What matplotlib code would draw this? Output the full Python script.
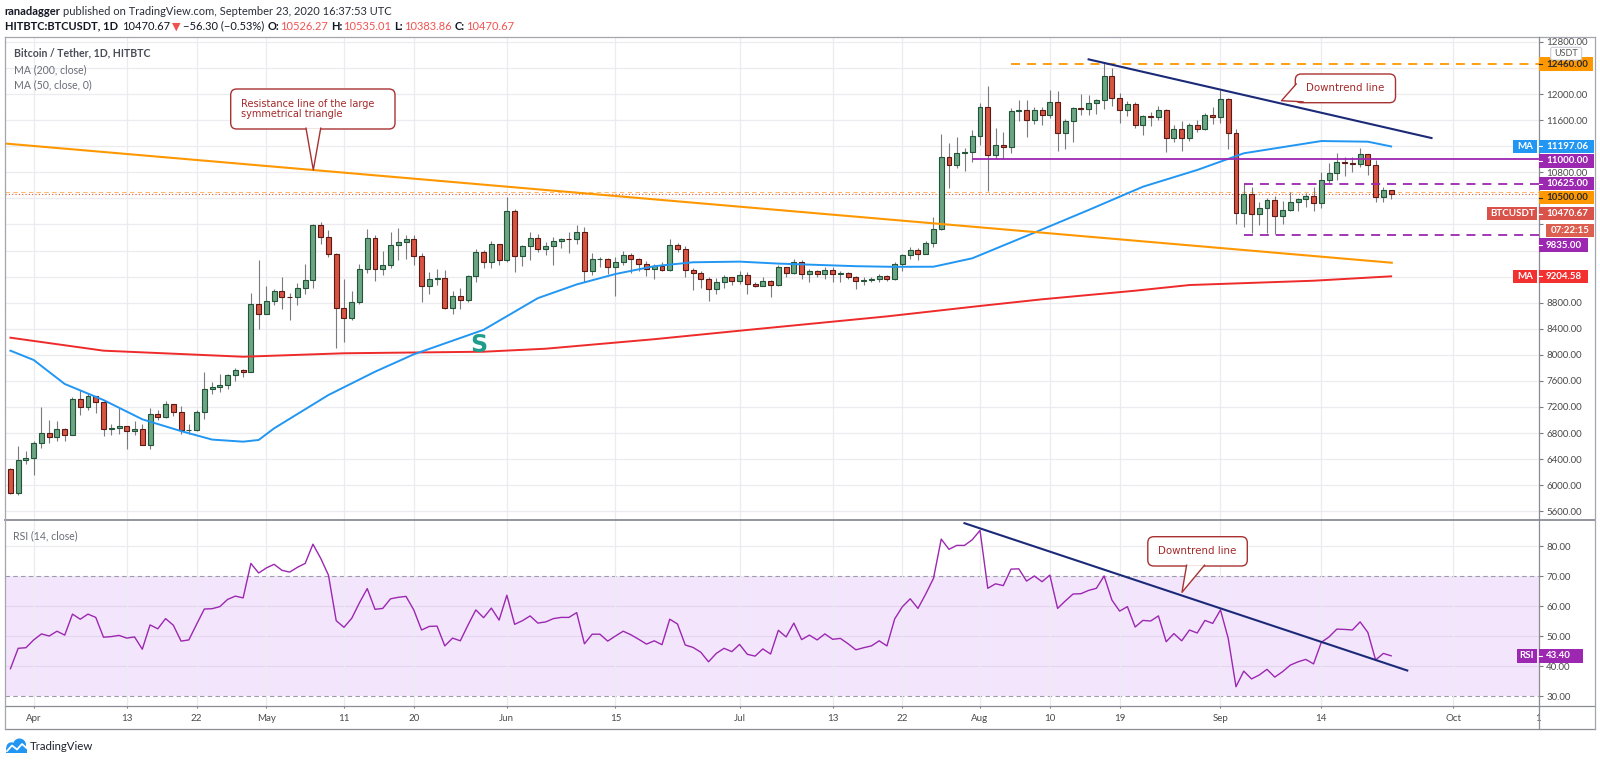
import matplotlib
matplotlib.use("Agg")
import matplotlib.pyplot as plt
import matplotlib.dates as mdates
import matplotlib.transforms as mtransforms
from matplotlib.patches import FancyBboxPatch, Polygon, Rectangle, Circle
from matplotlib.lines import Line2D
import numpy as np
import pandas as pd

W, H = 1600, 763
plt.rcParams["font.family"] = ["Lato", "DejaVu Sans"]

# ---------------- data ----------------
dates = pd.date_range("2020-03-29", "2020-09-23", freq="D")

opens = [6245, 5880, 6394, 6410, 6642, 6794, 6734, 6857, 6772, 7330,
         7197, 7361, 7283, 6858, 6876, 6903, 6838, 6869, 6622, 7097,
         7047, 7244, 7124, 6843, 6852, 7125, 7483, 7505, 7539, 7693,
         7774, 7738, 8778, 8620, 8826, 8972, 8894, 8885, 9031, 9149,
         9987, 9812, 9542, 8723, 8562, 8810, 9310, 9792, 9316, 9382,
         9680, 9733, 9775, 9512, 9058, 9170, 9180, 8720, 8900, 8841,
         9204, 9575, 9427, 9697, 9448, 10200, 9518, 9666, 9789, 9621,
         9666, 9746, 9782, 9772, 9885, 9280, 9465, 9473, 9342, 9426,
         9525, 9465, 9386, 9310, 9358, 9294, 9685, 9624, 9296, 9249,
         9162, 9012, 9116, 9192, 9138, 9232, 9087, 9059, 9135, 9070,
         9342, 9253, 9429, 9233, 9289, 9236, 9302, 9239, 9252, 9197,
         9133, 9154, 9171, 9209, 9161, 9390, 9536, 9610, 9551, 9709,
         9938, 11030, 10912, 11100, 11112, 11351, 11801, 11071, 11219, 11191,
         11744, 11763, 11601, 11754, 11676, 11879, 11410, 11585, 11785, 11767,
         11866, 11911, 12281, 11945, 11754, 11853, 11531, 11662, 11649, 11750,
         11322, 11462, 11328, 11525, 11470, 11682, 11650, 11924, 11397, 10170,
         10473, 10168, 10260, 10373, 10127, 10222, 10340, 10393, 10442, 10323,
         10680, 10786, 10955, 10940, 10933, 11080, 10920, 10417, 10526.27]

highs = [6267, 6599, 6523, 6679, 7200, 7000, 6990, 6879, 7355, 7459,
         7420, 7371, 7295, 6944, 7177, 6903, 6978, 6933, 7180, 7150,
         7293, 7245, 7220, 6940, 7157, 7740, 7590, 7700, 7712, 7795,
         7780, 8952, 9460, 9060, 9010, 9200, 8950, 9100, 9400, 10000,
         10040, 9920, 9570, 9170, 8975, 9390, 9930, 9846, 9588, 9888,
         9950, 9840, 9840, 9568, 9270, 9310, 9300, 8980, 9018, 9225,
         9625, 9605, 9740, 9700, 10428, 10230, 9690, 9881, 9854, 9735,
         9802, 9800, 9877, 9992, 9964, 9557, 9494, 9480, 9495, 9589,
         9565, 9489, 9438, 9395, 9419, 9780, 9720, 9670, 9328, 9287,
         9196, 9186, 9232, 9200, 9292, 9274, 9125, 9190, 9145, 9375,
         9350, 9470, 9450, 9314, 9300, 9343, 9345, 9279, 9275, 9205,
         9187, 9190, 9242, 9219, 9430, 9549, 9649, 9645, 9740, 10112,
         11394, 11244, 11340, 11170, 11454, 11861, 12123, 11473, 11414, 11780,
         11902, 11915, 11808, 11806, 12067, 12050, 11616, 11800, 12000, 11990,
         11925, 12486, 12400, 12020, 11888, 11878, 11686, 11718, 11825, 11768,
         11529, 11588, 11550, 11600, 11710, 11800, 12067, 11947, 11460, 10640,
         10575, 10350, 10400, 10440, 10355, 10500, 10400, 10480, 10580, 10800,
         10940, 11100, 11040, 11040, 11180, 11080, 10990, 10580, 10535.01]

lows = [5869, 5857, 6321, 6150, 6569, 6647, 6682, 6672, 6767, 7079,
        7150, 7115, 6753, 6765, 6780, 6555, 6773, 6616, 6555, 7001,
        7030, 7055, 6793, 6780, 6834, 7020, 7400, 7431, 7480, 7606,
        7660, 7736, 8400, 8620, 8760, 8700, 8530, 8760, 8940, 9020,
        9700, 9500, 8100, 8200, 8528, 8780, 9256, 9130, 9220, 9328,
        9460, 9474, 9380, 8815, 8940, 9076, 8700, 8630, 8700, 8811,
        9110, 9330, 9331, 9381, 9417, 9266, 9365, 9450, 9581, 9531,
        9372, 9633, 9570, 9704, 9113, 9227, 9351, 9245, 8910, 9373,
        9257, 9280, 9215, 9170, 9281, 9281, 9577, 9200, 9000, 9030,
        8833, 8940, 9024, 9064, 9088, 8940, 9040, 9053, 8893, 9056,
        9200, 9237, 9160, 9115, 9190, 9160, 9110, 9125, 9170, 9005,
        9074, 9121, 9118, 9130, 9150, 9287, 9463, 9460, 9540, 9650,
        9920, 10560, 10860, 10821, 10960, 11220, 10518, 11012, 11000, 11093,
        11580, 11346, 11540, 11521, 11630, 11125, 11160, 11270, 11680, 11686,
        11695, 11779, 11824, 11561, 11668, 11485, 11376, 11514, 11599, 11116,
        11262, 11121, 11285, 11414, 11456, 11535, 11550, 11160, 10000, 9960,
        9875, 9988, 9870, 9850, 10000, 10200, 10200, 10270, 10200, 10260,
        10630, 10676, 10740, 10800, 10880, 10760, 10350, 10350, 10383.86]

closes = [5880, 6394, 6410, 6642, 6794, 6734, 6857, 6772, 7330, 7197,
          7361, 7283, 6858, 6876, 6903, 6838, 6869, 6622, 7097, 7047,
          7244, 7124, 6843, 6852, 7125, 7483, 7505, 7539, 7693, 7774,
          7738, 8778, 8620, 8826, 8972, 8894, 8885, 9031, 9149, 9987,
          9812, 9542, 8723, 8562, 8810, 9310, 9792, 9316, 9382, 9680,
          9733, 9775, 9512, 9058, 9170, 9180, 8720, 8900, 8841, 9204,
          9575, 9427, 9697, 9448, 10200, 9518, 9666, 9789, 9621, 9666,
          9746, 9782, 9772, 9885, 9280, 9465, 9473, 9342, 9426, 9525,
          9465, 9386, 9310, 9358, 9294, 9685, 9624, 9296, 9249, 9162,
          9012, 9116, 9192, 9138, 9232, 9087, 9059, 9135, 9070, 9342,
          9253, 9429, 9233, 9289, 9236, 9302, 9239, 9252, 9197, 9133,
          9154, 9171, 9209, 9161, 9390, 9536, 9610, 9551, 9709, 9938,
          11030, 10912, 11100, 11112, 11351, 11801, 11071, 11219, 11191, 11744,
          11763, 11601, 11754, 11676, 11879, 11410, 11585, 11785, 11767, 11866,
          11911, 12281, 11945, 11754, 11853, 11531, 11662, 11649, 11750, 11322,
          11462, 11328, 11525, 11470, 11682, 11650, 11924, 11397, 10170, 10473,
          10168, 10260, 10373, 10127, 10222, 10340, 10393, 10442, 10323, 10680,
          10786, 10955, 10940, 10933, 11080, 10920, 10417, 10527, 10470.67]

rsi = [39.1, 45.9, 46.1, 48.7, 50.7, 50.0, 51.6, 50.3, 57.3, 55.6,
       57.3, 56.2, 49.6, 49.8, 50.2, 49.3, 49.7, 45.6, 53.7, 52.4,
       55.8, 53.6, 48.3, 48.7, 53.9, 59.0, 59.1, 59.8, 62.2, 63.3,
       62.7, 74.2, 71.0, 72.7, 73.9, 71.9, 71.3, 72.9, 74.2, 80.6,
       75.9, 70.3, 55.1, 52.9, 55.9, 61.1, 65.8, 58.9, 59.2, 62.4,
       62.9, 63.2, 58.7, 52.0, 53.2, 53.3, 46.7, 49.3, 48.4, 53.7,
       58.7, 56.1, 59.3, 55.3, 63.6, 53.9, 55.1, 56.7, 54.3, 54.7,
       55.8, 56.2, 56.2, 57.8, 47.4, 50.6, 50.6, 48.3, 50.0, 51.6,
       50.4, 48.9, 47.3, 48.4, 47.1, 55.6, 54.0, 47.0, 46.2, 44.6,
       41.4, 44.2, 45.9, 44.8, 47.2, 43.9, 43.3, 45.7, 44.0, 51.9,
       49.7, 54.3, 48.8, 50.3, 48.7, 50.7, 48.9, 49.2, 47.4, 45.4,
       46.1, 46.7, 48.4, 46.7, 55.7, 59.8, 62.4, 59.2, 64.0, 69.2,
       82.3, 78.9, 80.2, 80.2, 82.1, 85.2, 65.9, 67.4, 66.8, 72.3,
       72.4, 68.3, 70.0, 68.1, 70.3, 59.2, 61.7, 64.0, 64.1, 65.2,
       65.9, 70.0, 62.0, 58.3, 59.8, 53.0, 55.2, 55.0, 56.7, 48.1,
       50.8, 48.4, 52.0, 51.0, 55.2, 54.2, 58.7, 49.2, 33.1, 38.3,
       35.7, 37.0, 38.9, 36.3, 38.1, 40.3, 41.4, 42.2, 40.7, 47.9,
       49.7, 52.3, 52.2, 52.0, 54.7, 51.2, 42.0, 44.2, 43.4]

ma50_dates = ["2020-03-29", "2020-04-01", "2020-04-05", "2020-04-10", "2020-04-15",
              "2020-04-20", "2020-04-24", "2020-04-28", "2020-04-30", "2020-05-02",
              "2020-05-09", "2020-05-15", "2020-05-20", "2020-05-29", "2020-06-05",
              "2020-06-10", "2020-06-15", "2020-06-20", "2020-06-25", "2020-07-01",
              "2020-07-06", "2020-07-11", "2020-07-16", "2020-07-21", "2020-07-26",
              "2020-07-31", "2020-08-08", "2020-08-15", "2020-08-22", "2020-08-29",
              "2020-09-04", "2020-09-14", "2020-09-20", "2020-09-23"]
ma50 = [8064, 7921, 7553, 7307, 7011, 6830, 6700, 6668, 6694, 6873,
        7384, 7741, 8008, 8384, 8870, 9080, 9240, 9360, 9420, 9430,
        9400, 9380, 9360, 9350, 9352, 9481, 9874, 10222, 10579, 10836,
        11092, 11280, 11270, 11197.06]

ma200_dates = ["2020-03-29", "2020-04-10", "2020-04-28", "2020-05-11", "2020-05-29",
               "2020-06-06", "2020-06-20", "2020-07-01", "2020-07-20", "2020-08-01",
               "2020-08-09", "2020-08-21", "2020-08-28", "2020-09-13", "2020-09-23"]
ma200 = [8263, 8064, 7971, 8024, 8048, 8094, 8240, 8370, 8590, 8750,
         8852, 8984, 9071, 9137, 9204.58]

tick_dates = ["2020-04-01", "2020-04-13", "2020-04-22", "2020-05-01", "2020-05-11",
              "2020-05-20", "2020-06-01", "2020-06-15", "2020-07-01", "2020-07-13",
              "2020-07-22", "2020-08-01", "2020-08-10", "2020-08-19", "2020-09-01",
              "2020-09-14", "2020-10-01", "2020-10-12"]
tick_labels = ["Apr", "13", "22", "May", "11", "20", "Jun", "15", "Jul", "13",
               "22", "Aug", "10", "19", "Sep", "14", "Oct", "1"]
price_ticks = list(range(5600, 12801, 400))
# tick labels hidden behind the coloured price tags
hidden_ticks = [12400, 11200, 10400, 10000, 9600, 9200]
rsi_ticks = [30, 40, 50, 60, 70, 80]

# drawn lines (date, value)
resistance = (["2020-03-28 07:00", "2020-09-23 02:00"], [11242, 9413])
downtrend = (["2020-08-15 00:00", "2020-09-28 05:00"], [12533, 11326])
rsi_downtrend = (["2020-07-30 00:00", "2020-09-25 02:00"], [87.6, 38.5])
level_11000 = ("2020-07-31 02:00", 11000)
level_12460 = ("2020-08-05 00:00", 12460)
level_10625 = ("2020-09-04 02:00", 10625)
level_9835 = ("2020-09-04 02:00", 9835)
level_10500 = 10500
last_price = 10470.67

# ---------------- figure ----------------
fig = plt.figure(figsize=(W / 100, H / 100), dpi=100)
pix = mtransforms.Affine2D().scale(1 / W, -1 / H).translate(0, 1) + fig.transFigure

L, R = 5, 1538.5
P_TOP, P_BOT = 37, 519.5
R_TOP, R_BOT = 520, 706
ax = fig.add_axes([L / W, 1 - P_BOT / H, (R - L) / W, (P_BOT - P_TOP) / H])
axr = fig.add_axes([L / W, 1 - R_BOT / H, (R - L) / W, (R_BOT - R_TOP) / H], sharex=ax)

num = lambda s: mdates.date2num(pd.Timestamp(s).to_pydatetime())
d0 = num("2020-04-01")
ax.set_xlim(d0 - 3.70, d0 + 193.94)
ax.set_ylim(5474, 12876)
axr.set_ylim(26.67, 88.67)

grid_c = "#ececf0"
for a in (ax, axr):
    a.set_facecolor("none")
    for s in a.spines.values():
        s.set_visible(False)
    a.set_xticks([num(d) for d in tick_dates])
    a.grid(axis="x", color=grid_c, lw=0.9, zorder=0)
    a.set_axisbelow(True)
    a.yaxis.tick_right()
    a.tick_params(axis="y", length=3.5 * 0.72, width=0.8, color="#787b86", pad=3,
                  labelsize=7, labelcolor="#4a4a4a")

ax.tick_params(axis="x", length=0, labelbottom=False)
ax.set_yticks(price_ticks)
ax.set_yticklabels(["" if p in hidden_ticks else f"{p:.2f}" for p in price_ticks])
ax.grid(axis="y", color=grid_c, lw=0.9, zorder=0)

axr.set_xticklabels(tick_labels)
axr.tick_params(axis="x", length=2 * 0.72, width=0.8, color="#787b86", pad=4.2,
                labelsize=7, labelcolor="#4a4a4a")
axr.set_yticks(rsi_ticks)
axr.set_yticklabels([f"{v:.2f}" for v in rsi_ticks])

# ---------------- candles ----------------
x = mdates.date2num(dates.to_pydatetime())
o = np.array(opens, float)
c = np.array(closes, float)
up = c >= o
ax.vlines(x, lows, highs, color="#7b7b7e", lw=0.8, zorder=2)
ax.bar(x, np.abs(c - o), bottom=np.minimum(o, c), width=0.64,
       color=np.where(up, "#6ba583", "#d75442"),
       edgecolor=np.where(up, "#225437", "#5b1a13"), linewidth=0.8, zorder=3)

# moving averages
ax.plot([num(d) for d in ma200_dates], ma200, color="#ee2a2a", lw=1.4, zorder=4)
ax.plot([num(d) for d in ma50_dates], ma50, color="#2196f3", lw=1.4, zorder=4)

# horizontal levels
xmax = ax.get_xlim()[1]
ax.axhline(level_10500, color="#ffb870", lw=0.8, ls=(0, (4, 3)), zorder=1.5)
ax.axhline(last_price, color="#d75442", lw=0.8, ls=(0, (1, 2)), zorder=1.5)
ax.plot([num(level_11000[0]), xmax], [level_11000[1]] * 2, color="#9c27b0", lw=1.3, zorder=4)
ax.plot([num(level_12460[0]), xmax], [level_12460[1]] * 2, color="#ff9800", lw=1.3,
        ls=(0, (5, 3.8)), zorder=4)
for lv in (level_10625, level_9835):
    ax.plot([num(lv[0]), xmax], [lv[1]] * 2, color="#9c27b0", lw=1.3,
            ls=(0, (5, 3.8)), zorder=4)

# trend lines
ax.plot([num(d) for d in resistance[0]], resistance[1], color="#ff9800", lw=1.5, zorder=4)
ax.plot([num(d) for d in downtrend[0]], downtrend[1], color="#1b2a78", lw=1.5, zorder=4)

# ---------------- RSI ----------------
axr.axhspan(30, 70, color="#f3e6fc", zorder=0.1, lw=0)
for v in (40, 50, 60):
    axr.axhline(v, color="#e3d6ee", lw=0.9, zorder=0.3)
axr.axhline(80, color=grid_c, lw=0.9, zorder=0.3)
for v in (30, 70):
    axr.axhline(v, color="#9a9ca6", lw=0.8, ls=(0, (4, 3)), zorder=0.4)
axr.plot(x, rsi, color="#9c27b0", lw=1.0, zorder=4)
axr.plot([num(d) for d in rsi_downtrend[0]], rsi_downtrend[1], color="#1b2a78", lw=1.5, zorder=5)

# ---------------- frame ----------------
def hline(y, x0, x1, color="#a3a6af", lw=0.9):
    fig.add_artist(Line2D([x0, x1], [y, y], transform=pix, color=color, lw=lw))


def vline(xp, y0, y1, color="#a3a6af", lw=0.9):
    fig.add_artist(Line2D([xp, xp], [y0, y1], transform=pix, color=color, lw=lw))


hline(37, L, 1595)
hline(729.3, L, 1595, color="#8a8d96")
hline(R_BOT, L, 1595, color="#8a8d96")
hline(519.8, L, 1595, color="#8a8d96", lw=1.3)
vline(L, 37, 729.3)
vline(1595, 37, 729.3)
vline(R, 37, 729.3, color="#8a8d96")

fig.canvas.draw()
renderer = fig.canvas.get_renderer()


def ypix(a, v):
    return H - a.transData.transform((0, v))[1]


def text_px(xp, yp, s, **kw):
    return fig.text(xp / W, 1 - yp / H, s, **kw)


def price_label(a, value, text, fc, tc="white", shift=0, x1=1594, tag=None, tag_x0=None):
    yc = ypix(a, value) + shift
    fig.add_artist(Rectangle((R, yc - 6.7), x1 - R, 13.4, transform=pix, fc=fc, ec="none", zorder=5))
    fig.add_artist(Line2D([R, R + 3.5], [yc, yc], transform=pix, color=tc, lw=0.8, zorder=6))
    text_px(1546, yc, text, color=tc, fontsize=7, fontweight="bold", va="center", ha="left", zorder=6)
    if tag:
        fig.add_artist(Rectangle((tag_x0, yc - 6.7), R - 1.5 - tag_x0, 13.4, transform=pix,
                                 fc=fc, ec="none", zorder=5))
        text_px((tag_x0 + R - 1.5) / 2, yc, tag, color=tc, fontsize=7, fontweight="bold",
                va="center", ha="center", zorder=6)
    return yc


price_label(ax, 12460, "12460.00", "#ff9800", tc="#2a2a2a", x1=1593)
price_label(ax, ma50[-1], f"{ma50[-1]:.2f}", "#2196f3", tag="MA", tag_x0=1513.3)
price_label(ax, 11000, "11000.00", "#9c27b0", shift=1.7)
price_label(ax, 10625, "10625.00", "#9c27b0")
price_label(ax, level_10500, "10500.00", "#ff9800", tc="#2a2a2a", shift=5.8)
yb = price_label(ax, last_price, f"{last_price:.2f}", "#d9534a", shift=19.9, tag="BTCUSDT", tag_x0=1487.3)
fig.add_artist(Rectangle((1545.7, yb + 10.6), 48.3, 13, transform=pix, fc="#dd5f50", ec="none", zorder=5))
text_px(1569.8, yb + 17.2, "07:22:15", color="white", fontsize=7, fontweight="bold",
        va="center", ha="center", zorder=6)
price_label(ax, 9835, "9835.00", "#9c27b0", shift=9.8, x1=1588)
price_label(ax, ma200[-1], f"{ma200[-1]:.2f}", "#f23030", x1=1587.7, tag="MA", tag_x0=1513.3)
price_label(axr, rsi[-1], f"{rsi[-1]:.2f}", "#9c27b0", x1=1583, tag="RSI", tag_x0=1516.7)

# currency box
fig.add_artist(FancyBboxPatch((1550.7, 47.3), 31, 12.7, boxstyle="round,pad=0,rounding_size=2",
                              transform=pix, fc="white", ec="#c9cbd1", lw=0.8, zorder=5))
text_px(1566.2, 53.8, "USDT", color="#555555", fontsize=6.5, va="center", ha="center", zorder=6)

# ---------------- callouts ----------------
def callout(x0, y0, x1, y1, b1, tip, b2, lines, align="center"):
    ec = "#a83232"
    fig.add_artist(FancyBboxPatch((x0, y0), x1 - x0, y1 - y0,
                                  boxstyle="round,pad=0,rounding_size=6",
                                  transform=pix, fc="white", ec=ec, lw=1.0, zorder=7))
    fig.add_artist(Polygon([b1, tip, b2], closed=True, transform=pix, fc="white",
                           ec="none", zorder=7.5))
    fig.add_artist(Line2D([b1[0], tip[0], b2[0]], [b1[1], tip[1], b2[1]], transform=pix,
                          color=ec, lw=1.0, zorder=8))
    n = len(lines)
    yc = (y0 + y1) / 2
    for i, s in enumerate(lines):
        yy = yc + (i - (n - 1) / 2) * 10.6
        if align == "left":
            text_px(x0 + 10, yy, s, color="#a52a2a", fontsize=7, family="DejaVu Sans",
                    va="center", ha="left", zorder=9)
        else:
            text_px((x0 + x1) / 2, yy, s, color="#a52a2a", fontsize=7.4, family="DejaVu Sans",
                    va="center", ha="center", zorder=9)


callout(230.7, 89, 395, 129, (306, 128.2), (313.3, 170), (320.7, 128.2),
        ["Resistance line of the large", "symmetrical triangle"], align="left")
callout(1295.3, 74, 1395.5, 102.7, (1296.2, 84), (1281.5, 100.7), (1303, 101.8),
        ["Downtrend line"])
callout(1147.8, 536.7, 1247.3, 566, (1186.6, 565.2), (1182, 592.3), (1204.5, 565.2),
        ["Downtrend line"])

# "S" marker
text_px(478.6, 345, "S", color="#1f9c8b", fontsize=17, fontweight="bold",
        family="DejaVu Sans", va="center", ha="center", zorder=6)

# ---------------- header / legends ----------------
def runs(xp, yp, parts, size):
    for s, color, weight, gap in parts:
        t = text_px(xp, yp, s, color=color, fontsize=size, fontweight=weight, va="center", ha="left")
        xp += t.get_window_extent(renderer).width + gap


dark, red = "#131722", "#ef5350"
runs(4.6, 11.7, [("ranadagger", dark, "bold", 3),
                 ("published on TradingView.com, September 23, 2020 16:37:53 UTC", "#2a2e39", "normal", 0)], 8)
runs(4.6, 26, [("HITBTC:BTCUSDT, 1D", dark, "bold", 4.5), ("10470.67", dark, "normal", 2),
               ("▼", red, "normal", 2), ("\u221256.30 (\u22120.53%)", dark, "normal", 3.5),
               ("O:", dark, "bold", 1), ("10526.27", red, "normal", 3),
               ("H:", dark, "bold", 1), ("10535.01", red, "normal", 3),
               ("L:", dark, "bold", 1), ("10383.86", red, "normal", 3),
               ("C:", dark, "bold", 1), ("10470.67", red, "normal", 0)], 8)

text_px(14, 53.3, "Bitcoin / Tether, 1D, HITBTC", color="#4a4d57", fontsize=7.6, fontweight="bold", va="center")
text_px(14, 70, "MA (200, close)", color="#6a6d78", fontsize=7.6, va="center")
text_px(14, 85, "MA (50, close, 0)", color="#6a6d78", fontsize=7.6, va="center")
text_px(13.4, 536, "RSI (14, close)", color="#6a6d78", fontsize=7.6, va="center")

# TradingView logo
logo_c = "#2196f3"
fig.add_artist(Circle((11.5, 747.5), 5.2, transform=pix, fc=logo_c, ec="none"))
fig.add_artist(Circle((19.5, 745.0), 6.5, transform=pix, fc=logo_c, ec="none"))
fig.add_artist(Rectangle((6.3, 747.5), 20.5, 5.5, transform=pix, fc=logo_c, ec="none"))
fig.add_artist(Line2D([7, 12, 17, 22, 26.5], [751, 745.5, 749.5, 744, 748], transform=pix,
                      color="white", lw=1.3))
text_px(30, 746.7, "TradingView", color="#1e222d", fontsize=8.2, va="center", ha="left")

fig.savefig("out.png", dpi=100)
